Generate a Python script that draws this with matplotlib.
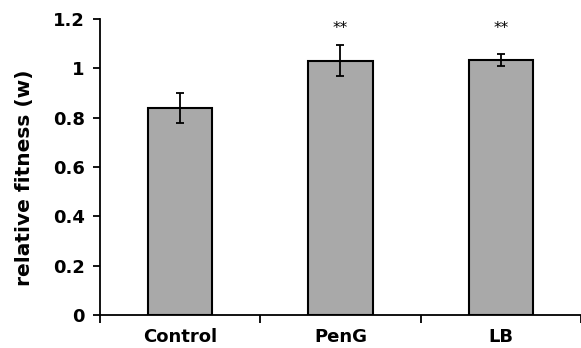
import matplotlib
matplotlib.use('Agg')
import matplotlib.pyplot as plt

categories = ['Control', 'PenG', 'LB']
fitness = [0.84, 1.031, 1.034]
errors = [0.061, 0.062, 0.026]
stars = ['', '**', '**']
yticks = [0, 0.2, 0.4, 0.6, 0.8, 1.0, 1.2]
ytick_labels = ['0', '0.2', '0.4', '0.6', '0.8', '1', '1.2']

plt.rcParams['font.family'] = 'DejaVu Sans'

fig = plt.figure(figsize=(5.81, 3.48), dpi=100)
ax = fig.add_axes([0.172, 0.0948, 0.828, 0.8506])

x = list(range(len(categories)))
ax.bar(x, fitness, width=0.4, color='#a9a9a9', edgecolor='black', linewidth=1.5,
       yerr=errors, capsize=3, error_kw=dict(elinewidth=1.3, capthick=1.3, ecolor='black'))

for xi, s in zip(x, stars):
    if s:
        ax.text(xi, 1.16, s, ha='center', va='center', fontsize=11)

ax.set_xlim(-0.5, 2.5)
ax.set_ylim(0, 1.2)
ax.set_yticks(yticks)
ax.set_yticklabels(ytick_labels, fontsize=13, fontweight='bold')
ax.set_xticks(x)
ax.set_xticklabels(categories, fontsize=13, fontweight='bold')
ax.set_xticks([-0.5, 0.5, 1.5, 2.5], minor=True)
ax.tick_params(axis='x', which='major', length=0, pad=9)
ax.tick_params(axis='x', which='minor', length=6, width=1.3, direction='out')
ax.tick_params(axis='y', length=5, width=1.3, pad=6)

ax.set_ylabel('relative fitness (w)', fontsize=14.5, fontweight='bold')
ax.yaxis.set_label_coords(-0.138, 0.463)

for side in ['top', 'right']:
    ax.spines[side].set_visible(False)
for side in ['left', 'bottom']:
    ax.spines[side].set_linewidth(1.3)

fig.savefig('out.png', dpi=100)
